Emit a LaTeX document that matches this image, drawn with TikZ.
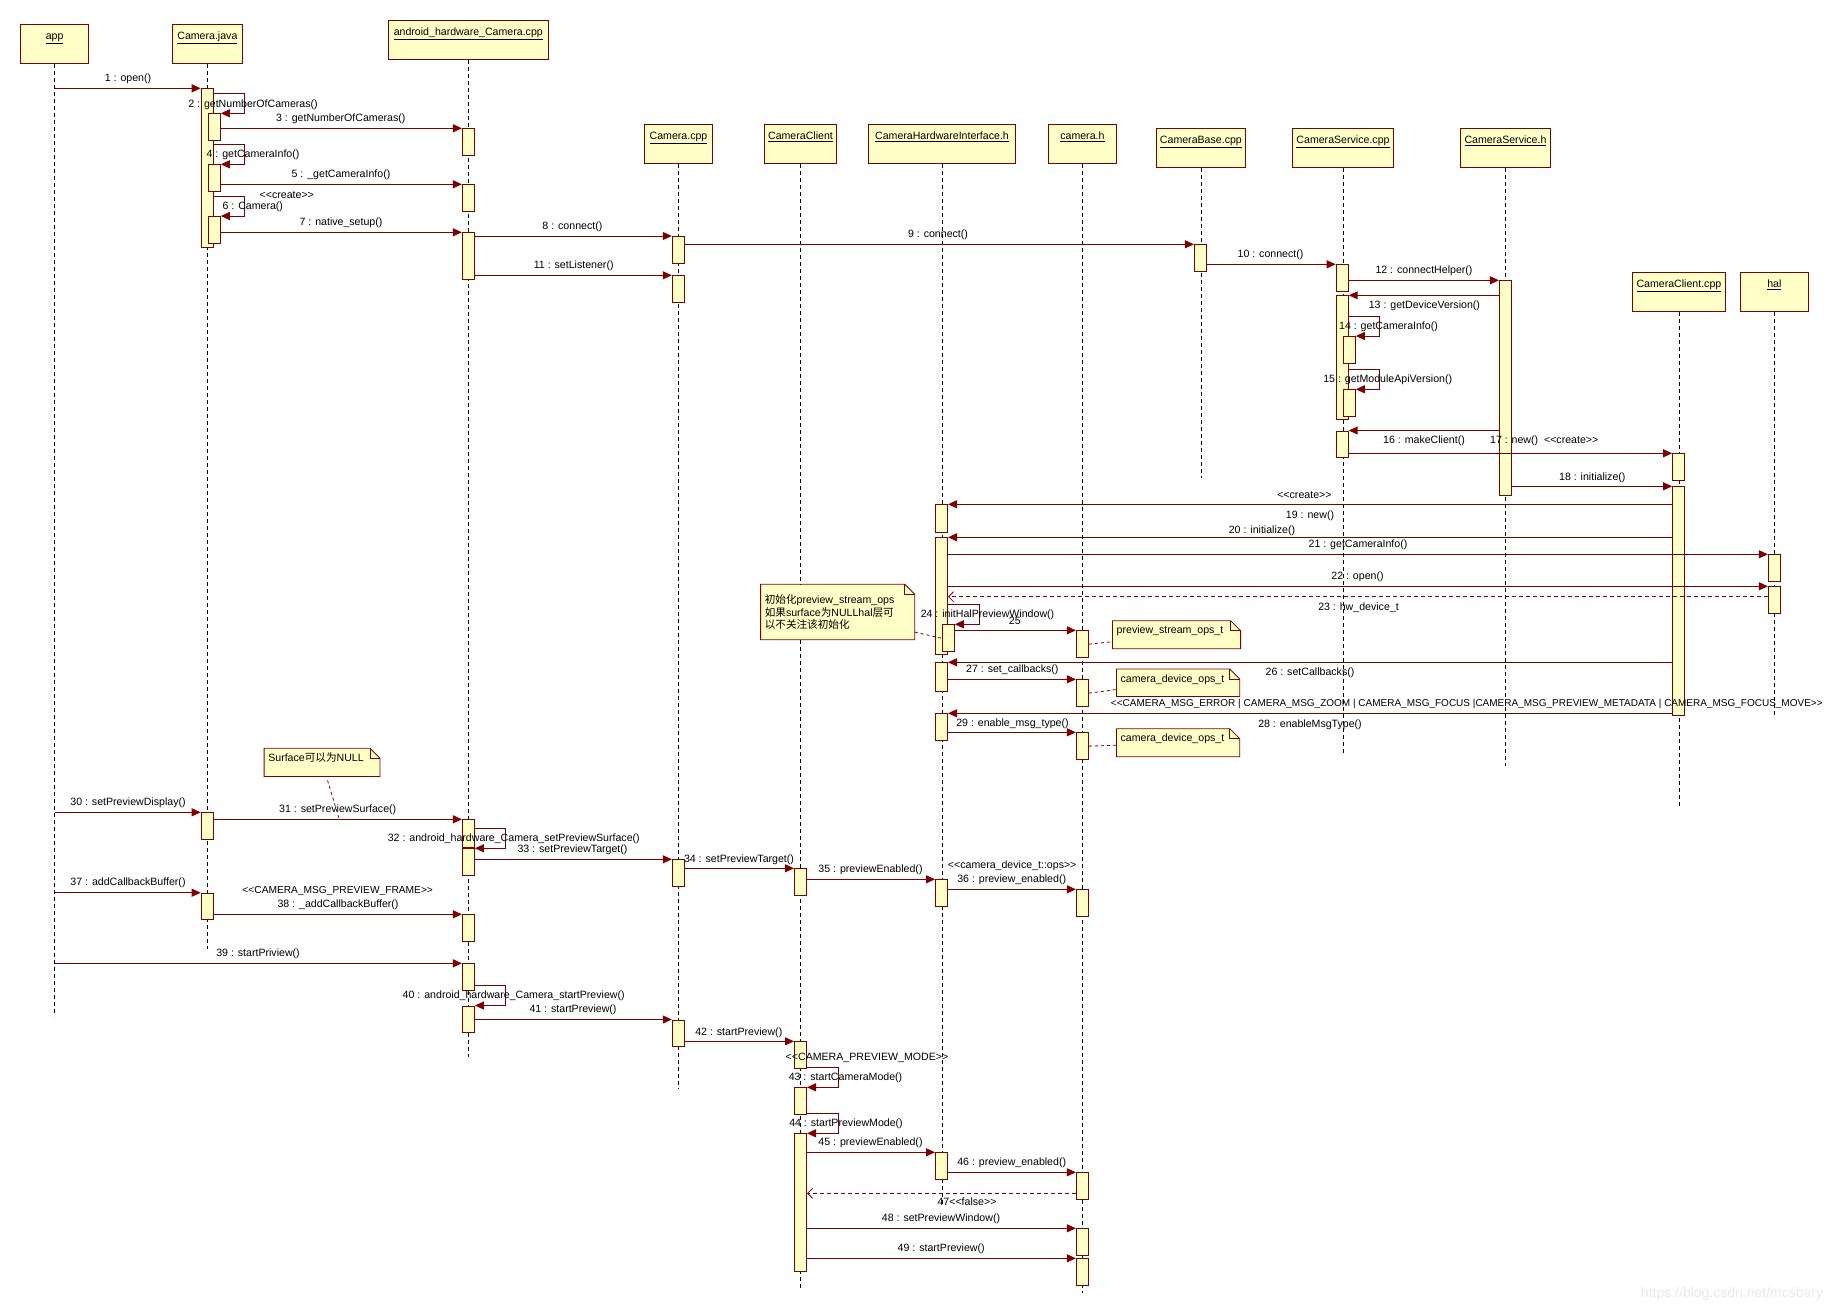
\documentclass[tikz,border=0pt]{standalone}
\usepackage{fontspec}
\setmainfont{Liberation Sans}
\newfontfamily\cjk{Noto Sans CJK SC}
\usetikzlibrary{arrows.meta}

\definecolor{mred}{RGB}{128,0,0}
\definecolor{nyellow}{RGB}{255,255,200}
\newcommand{\lblsize}{\fontsize{10.6}{12.7}\selectfont}
\newcommand{\dlt}{<\kern0pt<}
\newcommand{\dgt}{>\kern0pt>}
\newcommand{\actbar}[4]{\node[actbar, minimum height={#4-#3}] (#1) at (#2,#3) {};}
\newcommand{\selfmsg}[2]{\draw[msg] (#1.east |- #2.north east) ++(0,-20) -- ++(31,0) |- (#2.north east);}
\newcommand{\notepath}[1]{%
  \fill[white] ([xshift=-10pt]#1.north east) -- (#1.north east) -- ([yshift=-10pt]#1.north east) -- cycle;
  \draw[mred, line width=0.8pt] (#1.north west) -- ([xshift=-10pt]#1.north east) -- ([yshift=-10pt]#1.north east) -- (#1.south east) -- (#1.south west) -- cycle;
  \draw[mred, line width=0.8pt] ([xshift=-10pt]#1.north east) |- ([yshift=-10pt]#1.north east);}

\begin{document}
\begin{tikzpicture}[x=1pt,y=-1pt]
    \tikzstyle{every node}+=[inner sep=0pt]
    \tikzstyle{obj}=[draw=mred, fill=nyellow, line width=1pt, anchor=north, font=\lblsize, inner ysep=5pt, text height=10pt, text depth=19pt]
    \tikzstyle{actbar}=[draw=mred, fill=nyellow, line width=1pt, minimum width=12pt, anchor=north]
    \tikzstyle{life}=[black, line width=0.8pt, dash pattern=on 4pt off 3pt]
    \tikzstyle{msg}=[mred, line width=1pt, -{Triangle[length=9pt,width=8pt]}]
    \tikzstyle{ret}=[mred, line width=0.8pt, dash pattern=on 4pt off 3pt, -{Straight Barb[length=5pt,width=10pt]}]
    \tikzstyle{lbl}=[font=\lblsize, text height=8pt, text depth=2.5pt]
    \tikzstyle{note}=[fill=nyellow, anchor=north west, font=\lblsize, inner xsep=4pt, align=left]
    \tikzstyle{notelink}=[mred, line width=0.8pt, dash pattern=on 3pt off 3pt]
    \useasboundingbox (0,0) rectangle (1844,1312);

    \node[obj, minimum width=68pt] (app) at (54.6,24) {\underline{app}};
    \node[obj, minimum width=70pt] (cjava) at (207.4,24) {\underline{Camera.java}};
    \node[obj, minimum width=160pt] (ahc) at (468.3,20) {\underline{android\_hardware\_Camera.cpp}};
    \node[obj, minimum width=68.4pt] (ccpp) at (678.5,124) {\underline{Camera.cpp}};
    \node[obj, minimum width=72pt] (cclient) at (800.5,124) {\underline{CameraClient}};
    \node[obj, minimum width=147pt] (chi) at (942,124) {\underline{CameraHardwareInterface.h}};
    \node[obj, minimum width=68pt] (camh) at (1082.4,124) {\underline{camera.h}};
    \node[obj, minimum width=89.2pt] (cbase) at (1200.9,128.3) {\underline{CameraBase.cpp}};
    \node[obj, minimum width=101pt] (csvc) at (1343,128.3) {\underline{CameraService.cpp}};
    \node[obj, minimum width=90.3pt] (csvch) at (1505.5,128.3) {\underline{CameraService.h}};
    \node[obj, minimum width=93.2pt] (cccpp) at (1678.9,272.3) {\underline{CameraClient.cpp}};
    \node[obj, minimum width=67.6pt] (hal) at (1774.4,272.3) {\underline{hal}};

    \foreach \n/\len in {app/952, cjava/885.3, ahc/997.4, ccpp/925.3, cclient/1125.7, chi/1042, camh/1129,
        cbase/309.4, csvc/584.4, csvch/597.7, cccpp/493.7, hal/402.7}
        \draw[life] (\n.south) -- ++(0,\len);

    \foreach \n/\x/\t/\b in {cj0/207.2/88.3/246.7, cj1/214.3/113.3/140, cj2/214.3/164.3/191, cj3/214.3/216/243.3,
        cj4/207.2/812.3/839, cj5/207.2/892.7/919,
        ah0/468.4/128.3/155.3, ah1/468.4/184.3/211, ah2/468.4/232.3/279, ah3/468.4/819.3/846.7,
        ah4/468.4/848.3/875.3, ah5/468.4/914.3/941, ah6/468.4/963.3/990, ah7/468.4/1005.5/1032.3,
        cc0/678.3/236/263.3, cc1/678.3/275.3/302.3, cc2/678.3/859.3/886, cc3/678.3/1019.5/1046,
        cl0/800.5/868.3/895, cl1/800.5/1041.3/1068, cl2/800.5/1087.3/1114, cl3/800.5/1133.3/1271,
        hi0/941.5/504.3/531.7, hi1/941.5/537.3/654, hi2/948.3/624.3/651.3, hi3/941.5/662.3/691,
        hi4/941.5/713.3/740, hi5/941.5/879.3/906, hi6/941.5/1152.3/1179,
        ch0/1082.4/630.3/657, ch1/1082.4/679.3/706, ch2/1082.4/732.3/759, ch3/1082.4/889.3/916,
        ch4/1082.4/1172.3/1199, ch5/1082.4/1228.3/1255, ch6/1082.4/1258.3/1285.3,
        cb0/1200.4/244.3/271.3,
        cs0/1342.2/264.3/291, cs1/1342.2/295.3/419, cs2/1349.3/336/363.3, cs3/1349.3/389.3/416, cs4/1342.2/430.5/457.3,
        sh0/1505.4/280.3/495, cp0/1678.6/453.3/480.3, cp1/1678.6/486.3/715,
        hl0/1774.4/554.3/581, hl1/1774.4/586.3/613.3}
        {\actbar{\n}{\x}{\t}{\b}}

    \foreach \b in {cj0, cj4, cj5, ah6}
        \draw[msg] (app.south |- \b.north west) -- (\b.north west);
    \foreach \a/\b in {cj1/ah0, cj2/ah1, cj3/ah2, ah2/cc0, cc0/cb0, cb0/cs0, ah2/cc1, cs0/sh0, cs4/cp0, sh0/cp1,
        hi1/hl0, hi1/hl1, hi2/ch0, hi3/ch1, hi4/ch2, cj4/ah3, ah4/cc2, cc2/cl0, cl0/hi5, hi5/ch3, cj5/ah5,
        ah7/cc3, cc3/cl1, cl3/hi6, hi6/ch4, cl3/ch5, cl3/ch6}
        \draw[msg] (\a.east |- \b.north west) -- (\b.north west);
    \foreach \a/\b in {sh0/cs1, sh0/cs4, cp1/hi0, cp1/hi1, cp1/hi3, cp1/hi4}
        \draw[msg] (\a.west |- \b.north east) -- (\b.north east);
    \foreach \a/\b in {cj0/cj1, cj0/cj2, cj0/cj3, cs1/cs2, cs1/cs3, hi1/hi2, ah3/ah4, ah6/ah7, cl1/cl2, cl2/cl3}
        {\selfmsg{\a}{\b}}

    \coordinate (r23) at ([yshift=-10.4pt]hl1.north west);
    \draw[ret] (r23) -- (r23 -| hi1.east);
    \coordinate (r47) at ([yshift=-21pt]ch4.north west);
    \draw[ret] (r47) -- (r47 -| cl3.east);

    \node[lbl] (t1) at (128,79) {1 : open()};
    \node[lbl] (t2) at (253,104.3) {2 : getNumberOfCameras()};
    \node[lbl] (t3) at (340.8,119) {3 : getNumberOfCameras()};
    \node[lbl] (t4) at (253,155) {4 : getCameraInfo()};
    \node[lbl] (t5) at (341,175) {5 : \_getCameraInfo()};
    \node[lbl] (t6a) at (286.8,196) {\dlt create\dgt};
    \node[lbl] (t6) at (252.8,207) {6 : Camera()};
    \node[lbl] (t7) at (341,223) {7 : native\_setup()};
    \node[lbl] (t8) at (572.4,227) {8 : connect()};
    \node[lbl] (t9) at (938,235) {9 : connect()};
    \node[lbl] (t10) at (1270.5,255) {10 : connect()};
    \node[lbl] (t11) at (573.7,266) {11 : setListener()};
    \node[lbl] (t12) at (1424,271) {12 : connectHelper()};
    \node[lbl] (t13) at (1424.4,306) {13 : getDeviceVersion()};
    \node[lbl] (t14) at (1388.5,326.7) {14 : getCameraInfo()};
    \node[lbl] (t15) at (1387.7,380) {15 : getModuleApiVersion()};
    \node[lbl] (t16) at (1424,440.7) {16 : makeClient()};
    \node[lbl] (t17) at (1544.2,440.7) {17 : new()\ \ \dlt create\dgt};
    \node[lbl] (t18) at (1592.3,477.3) {18 : initialize()};
    \node[lbl] (t19a) at (1304.4,495.3) {\dlt create\dgt};
    \node[lbl] (t19) at (1310,515.3) {19 : new()};
    \node[lbl] (t20) at (1262,530.7) {20 : initialize()};
    \node[lbl] (t21) at (1358,545) {21 : getCameraInfo()};
    \node[lbl] (t22) at (1357.5,577) {22 : open()};
    \node[lbl] (t23) at (1358.5,608) {23 : hw\_device\_t};
    \node[lbl] (t24) at (987.5,615) {24 : initHalPreviewWindow()};
    \node[lbl] (t25) at (1014.8,621.7) {25};
    \node[lbl] (t26) at (1310,673) {26 : setCallbacks()};
    \node[lbl] (t27) at (1012.3,670) {27 : set\_callbacks()};
    \node[lbl, font=\fontsize{10}{12}\selectfont] (t28a) at (1466.8,704) {\dlt CAMERA\_MSG\_ERROR | CAMERA\_MSG\_ZOOM | CAMERA\_MSG\_FOCUS |CAMERA\_MSG\_PREVIEW\_METADATA | CAMERA\_MSG\_FOCUS\_MOVE\dgt};
    \node[lbl] (t28) at (1310,724.3) {28 : enableMsgType()};
    \node[lbl] (t29) at (1012.5,723.3) {29 : enable\_msg\_type()};
    \node[lbl] (t30) at (128,803) {30 : setPreviewDisplay()};
    \node[lbl] (t31) at (337.7,810) {31 : setPreviewSurface()};
    \node[lbl] (t32) at (513.8,839) {32 : android\_hardware\_Camera\_setPreviewSurface()};
    \node[lbl] (t33) at (572.5,850) {33 : setPreviewTarget()};
    \node[lbl] (t34) at (739,859.3) {34 : setPreviewTarget()};
    \node[lbl] (t35) at (870.5,870) {35 : previewEnabled()};
    \node[lbl] (t36a) at (1012.2,865.3) {\dlt camera\_device\_t::ops\dgt};
    \node[lbl] (t36) at (1011.7,880) {36 : preview\_enabled()};
    \node[lbl] (t37) at (128,882.7) {37 : addCallbackBuffer()};
    \node[lbl, font=\fontsize{10.2}{12}\selectfont] (t38a) at (337.7,890.3) {\dlt CAMERA\_MSG\_PREVIEW\_FRAME\dgt};
    \node[lbl] (t38) at (338,905) {38 : \_addCallbackBuffer()};
    \node[lbl] (t39) at (258,954) {39 : startPriview()};
    \node[lbl] (t40) at (513.7,995.7) {40 : android\_hardware\_Camera\_startPreview()};
    \node[lbl] (t41) at (573,1010) {41 : startPreview()};
    \node[lbl] (t42) at (738.8,1032.3) {42 : startPreview()};
    \node[lbl] (t43a) at (867,1058) {\dlt CAMERA\_PREVIEW\_MODE\dgt};
    \node[lbl] (t43) at (845.5,1077.7) {43 : startCameraMode()};
    \node[lbl] (t44) at (846,1124) {44 : startPreviewMode()};
    \node[lbl] (t45) at (870.5,1143) {45 : previewEnabled()};
    \node[lbl] (t46) at (1011.7,1163) {46 : preview\_enabled()};
    \node[lbl] (t47) at (967,1202.3) {47\dlt false\dgt};
    \node[lbl] (t48) at (941,1219) {48 : setPreviewWindow()};
    \node[lbl] (t49) at (941.2,1249) {49 : startPreview()};

    \node[note, text width=145.8pt, minimum height=55pt] (note1) at (760.6,584.3)
        {{\cjk 初始化}preview\_stream\_ops\\{\cjk 如果}surface{\cjk 为}NULLhal{\cjk 层可}\\{\cjk 以不关注该初始化}};
    \notepath{note1}
    \node[note, text width=119.7pt, inner ysep=2pt, text height=11pt, text depth=12.6pt] (note2) at (1112.5,620.7) {preview\_stream\_ops\_t};
    \notepath{note2}
    \node[note, text width=115pt, inner ysep=2pt, text height=11pt, text depth=12pt] (note3) at (1116.4,669) {camera\_device\_ops\_t};
    \notepath{note3}
    \node[note, text width=115pt, inner ysep=2pt, text height=11pt, text depth=12.6pt] (note4) at (1116.4,728.7) {camera\_device\_ops\_t};
    \notepath{note4}
    \node[note, text width=107.5pt, inner ysep=2pt, text height=11pt, text depth=12.7pt] (note5) at (264.1,748.3) {Surface{\cjk 可以为}NULL};
    \notepath{note5}

    \draw[notelink] ([yshift=7.6pt]note1.south east) -- (hi2.west);
    \draw[notelink] (ch0.east) -- ([yshift=-7pt]note2.west);
    \draw[notelink] (ch1.east) -- ([yshift=-6.8pt]note3.west);
    \draw[notelink] (ch2.east) -- ([yshift=-2.5pt]note4.west);
    \coordinate (n5end) at (339.3,819.3);
    \draw[notelink] ([xshift=5.5pt,yshift=-4pt]note5.south) -- (n5end);

    \node[text=gray!18, font=\fontsize{14}{16}\selectfont] (wm) at (1732,1294) {https://blog.csdn.net/mcsbary};
\end{tikzpicture}
\end{document}
